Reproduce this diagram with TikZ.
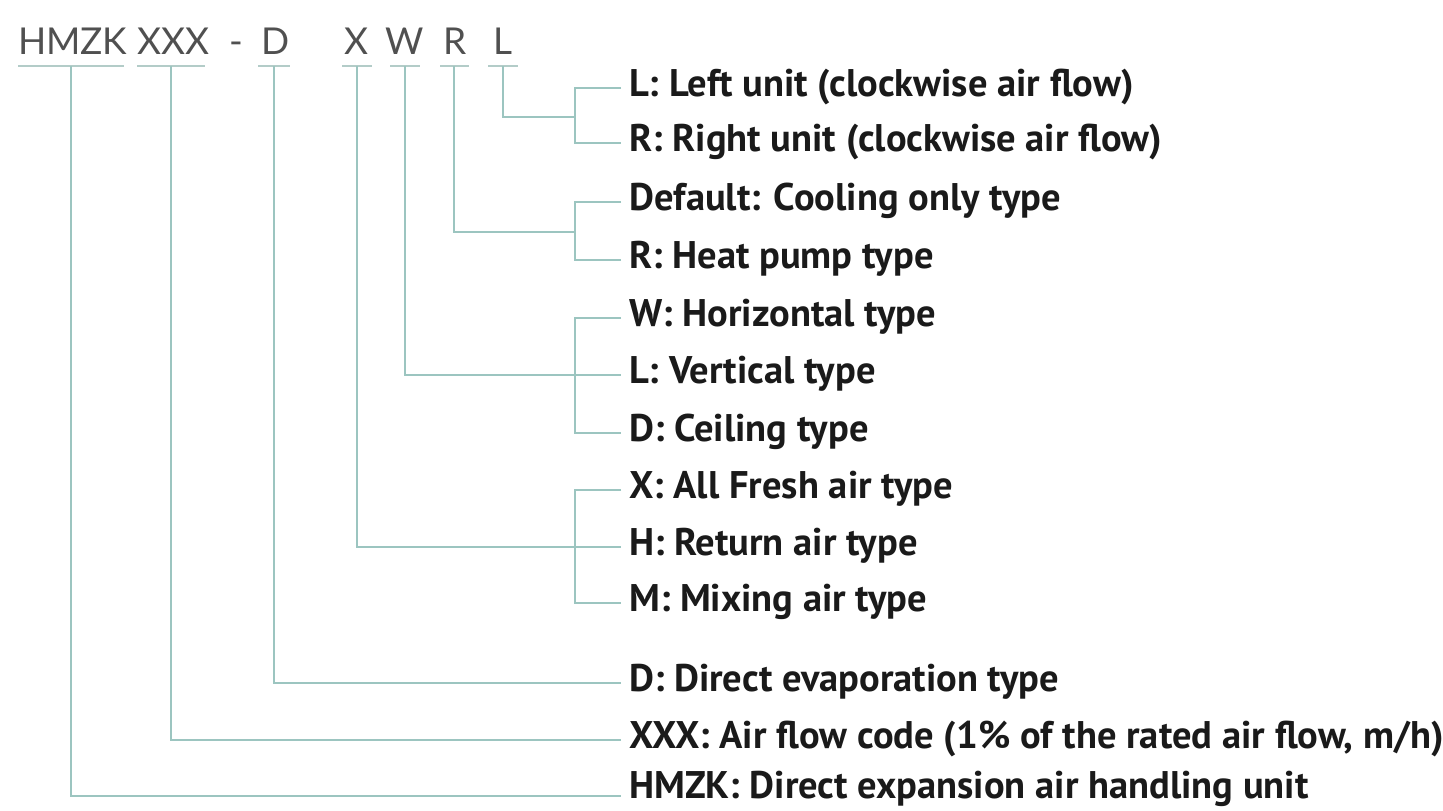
\documentclass[tikz,border=0pt]{standalone}
\usepackage{fontspec}
\setmainfont{PT Sans}
\newfontfamily\codefont{Lato}
\definecolor{conncol}{HTML}{9CC5C0}
\definecolor{ulcol}{HTML}{B3CCC8}
\definecolor{codecol}{HTML}{505050}
\definecolor{txtcol}{HTML}{1A1A1A}
\newcommand{\lowtxt}[2][-7pt]{\raisebox{#1}{#2}}
\begin{document}
\begin{tikzpicture}[x=1pt,y=-1pt,
  conn/.style={draw=conncol,line width=2.2pt},
  uline/.style={draw=ulcol,line width=2pt},
  code/.style={font=\codefont\fontsize{37}{40}\selectfont,text=codecol,inner sep=0pt,anchor=base},
  lbl/.style={font=\bfseries\fontsize{38.5}{42}\selectfont,text=txtcol,anchor=west,inner xsep=8pt,inner ysep=0pt,text height=0.6em,text depth=0.4em}]
\useasboundingbox (0,0) rectangle (1443,811);
% code letters
\node[code] (cHMZK) at (71,54) {\makebox[106pt][s]{H\hfill M\hfill Z\hfill K}};
\node[code] (cXXX) at (171,54) {\makebox[67pt][s]{X\hfill X\hfill X}};
\node[code] (cdash) at (236,54) {-};
\node[code] (cD) at (276,54) {D};
\node[code] (cX) at (357,54) {X};
\node[code] (cW) at (405,54) {W};
\node[code] (cR) at (455,54) {R};
\node[code] (cL) at (503,54) {L};
% underlines
\draw[uline] (18,66) -- (124,66);
\draw[uline] (137,66) -- (205,66);
\draw[uline] (258,66) -- (290,66);
\draw[uline] (342,66) -- (372,66);
\draw[uline] (390,66) -- (420,66);
\draw[uline] (440,66) -- (469,66);
\draw[uline] (488,66) -- (518,66);
\coordinate (uHMZK) at (71,66);
\coordinate (uXXX) at (171,66);
\coordinate (uD) at (274,66);
\coordinate (uX) at (357,66);
\coordinate (uW) at (405,66);
\coordinate (uR) at (454,66);
\coordinate (uL) at (503,66);
% labels
\node[lbl] (l1) at (621,88) {\lowtxt{L: Left unit (clockwise air flow)}};
\node[lbl] (l2) at (621,143) {\lowtxt{R: Right unit (clockwise air flow)}};
\node[lbl] (r1) at (621,202) {\lowtxt{Default: Cooling only type}};
\node[lbl] (r2) at (621,260) {\lowtxt{R: Heat pump type}};
\node[lbl] (w1) at (621,318) {\lowtxt{W: Horizontal type}};
\node[lbl] (w2) at (621,375) {\lowtxt{L: Vertical type}};
\node[lbl] (w3) at (621,433) {\lowtxt{D: Ceiling type}};
\node[lbl] (x1) at (621,490) {\lowtxt{X: All Fresh air type}};
\node[lbl] (x2) at (621,547) {\lowtxt{H: Return air type}};
\node[lbl] (x3) at (621,603) {\lowtxt{M: Mixing air type}};
\node[lbl] (d1) at (621,683) {\lowtxt{D: Direct evaporation type}};
\node[lbl] (a1) at (621,740) {\lowtxt{XXX: Air flow code (1\% of the rated air flow, m/h)}};
\node[lbl,text depth=0.35em] (h1) at (621,796) {\lowtxt[-1pt]{HMZK: Direct expansion air handling unit}};
% branch joints
\coordinate (jL) at (575,117);
\coordinate (jR) at (575,232);
% connectors
\draw[conn] (uL) |- (jL);
\draw[conn] (l1.west) -| (jL) |- (l2.west);
\draw[conn] (uR) |- (jR);
\draw[conn] (r1.west) -| (jR) |- (r2.west);
\draw[conn] (uW) |- (w2.west);
\draw[conn] (w1.west) -| (575,375) |- (w3.west);
\draw[conn] (uX) |- (x2.west);
\draw[conn] (x1.west) -| (575,547) |- (x3.west);
\draw[conn] (uD) |- (d1.west);
\draw[conn] (uXXX) |- (a1.west);
\draw[conn] (uHMZK) |- (h1.west);
\end{tikzpicture}
\end{document}
